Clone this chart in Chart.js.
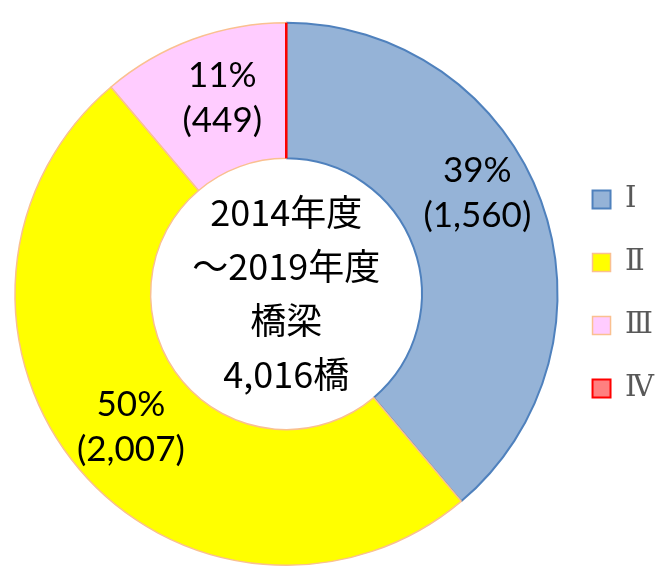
<!DOCTYPE html>
<html>
<head>
<meta charset="utf-8">
<script src="https://cdn.jsdelivr.net/npm/chart.js@4.4.0/dist/chart.umd.min.js"></script>
<style>
html,body{margin:0;padding:0;background:#fff;}
#wrap{width:670px;height:586px;position:relative;}
</style>
</head>
<body>
<div id="wrap"><canvas id="c"></canvas></div>
<script>
// ---- data ----
const categories = ['Ⅰ', 'Ⅱ', 'Ⅲ', 'Ⅳ'];
const counts = [1560, 2007, 449, 0];
const centerLines = ['2014年度', '～2019年度', '橋梁', '4,016橋'];

// ---- styles ----
const fills = ['#95b3d7', '#ffff00', '#ffccff', '#ff8080'];
const borders = ['#4f81bd', '#fac090', '#fac090', '#ff0000'];
const borderWidths = [2, 1.5, 1.5, 2];
const labelShift = [[0, -31], [0, 1], [6, -5], [0, 0]];

const total = counts.reduce((a, b) => a + b, 0);

const labelPlugin = {
  id: 'labels',
  afterDatasetsDraw(chart) {
    const ctx = chart.ctx;
    const meta = chart.getDatasetMeta(0);
    ctx.save();
    // zero-value slice drawn as a radial line at its angle
    meta.data.forEach((arc, i) => {
      if (counts[i] === 0) {
        const p = arc.getProps(['x', 'y', 'startAngle', 'innerRadius', 'outerRadius']);
        ctx.strokeStyle = borders[i];
        ctx.lineWidth = 2.5;
        ctx.beginPath();
        ctx.moveTo(p.x + Math.cos(p.startAngle) * p.innerRadius, p.y + Math.sin(p.startAngle) * p.innerRadius);
        ctx.lineTo(p.x + Math.cos(p.startAngle) * p.outerRadius, p.y + Math.sin(p.startAngle) * p.outerRadius);
        ctx.stroke();
      }
    });
    ctx.fillStyle = '#000';
    ctx.textAlign = 'center';
    ctx.textBaseline = 'middle';
    ctx.font = '35px Lato, "Open Sans", sans-serif';
    meta.data.forEach((arc, i) => {
      if (counts[i] === 0) return;
      const pos = arc.tooltipPosition();
      const x = pos.x + labelShift[i][0];
      const y = pos.y + labelShift[i][1];
      const pct = Math.round(counts[i] / total * 100) + '%';
      const num = '(' + counts[i].toLocaleString('en-US') + ')';
      ctx.fillText(pct, x, y - 22);
      ctx.fillText(num, x, y + 23);
    });
    // center text
    const c = meta.data[0];
    ctx.font = '36px "Noto Sans CJK JP", sans-serif';
    const lh = 54;
    const start = c.y - 1 - lh * (centerLines.length - 1) / 2;
    centerLines.forEach((t, k) => ctx.fillText(t, c.x, start + k * lh));
    ctx.restore();
  }
};

new Chart(document.getElementById('c'), {
  type: 'doughnut',
  data: {
    labels: categories,
    datasets: [{
      data: counts,
      backgroundColor: fills,
      borderColor: borders,
      borderWidth: borderWidths,
      hoverOffset: 0
    }]
  },
  options: {
    responsive: true,
    maintainAspectRatio: false,
    animation: false,
    cutout: '50%',
    layout: { padding: { left: 14, top: 21, bottom: 19, right: 6 } },
    events: [],
    plugins: {
      tooltip: { enabled: false },
      legend: {
        position: 'right',
        labels: {
          boxWidth: 18,
          boxHeight: 18,
          padding: 34,
          color: '#595959',
          font: { size: 29, family: '"DejaVu Serif", serif' }
        }
      }
    }
  },
  plugins: [labelPlugin]
});
</script>
</body>
</html>
